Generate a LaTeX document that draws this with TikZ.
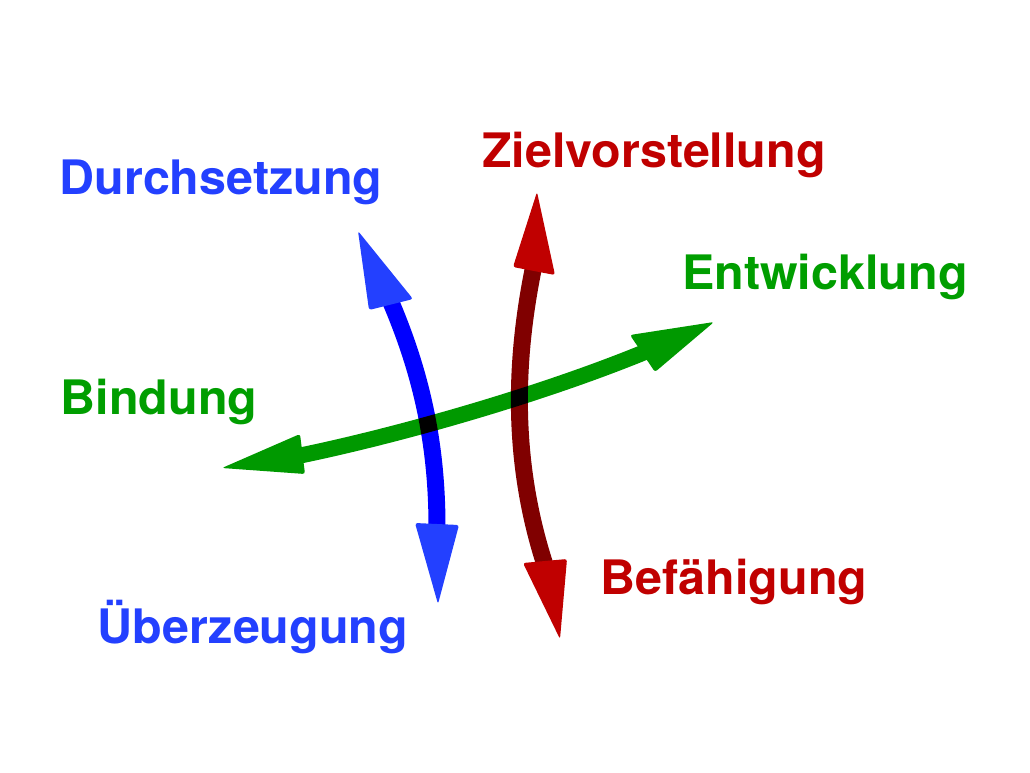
\documentclass[tikz,border=0pt]{standalone}
\usepackage{fontspec}
\setmainfont{TeX Gyre Heros}[FakeStretch=1.02]
\definecolor{bshaft}{RGB}{0,0,255}
\definecolor{bhead}{RGB}{35,64,255}
\definecolor{rshaft}{RGB}{128,0,0}
\definecolor{rhead}{RGB}{192,0,0}
\definecolor{gshaft}{RGB}{0,153,0}
\definecolor{gtext}{RGB}{0,158,0}
\tikzset{
  lbl/.style={inner sep=0pt, anchor=base, font=\fontsize{47.5}{56}\selectfont\bfseries},
  shaft/.style={line width=17pt, line cap=butt},
  headshape/.style={rounded corners=2.5pt},
}
\begin{document}
\begin{tikzpicture}[x=1pt,y=-1pt]
\useasboundingbox (0,0) rectangle (1030,773);
\fill[white] (0,0) rectangle (1030,773);

% labels
\node[lbl, text=bhead] (durch) at (221,194) {Durchsetzung};
\node[lbl, text=rhead] (ziel) at (654,167) {Zielvorstellung};
\node[lbl, text=gtext] (entw) at (825,289) {Entwicklung};
\node[lbl, text=gtext] (bind) at (159,414) {Bindung};
\node[lbl, text=rhead] (befa) at (734,594) {Befähigung};
\node[lbl, text=bhead] (ueber) at (253,643) {Überzeugung};

% shaft end points
\coordinate (bA) at (390,300);
\coordinate (bB) at (437,527);
\coordinate (rA) at (533,270);
\coordinate (rB) at (545,565);
\coordinate (gA) at (298,456);
\coordinate (gB) at (645,352);

% green shaft
\draw[shaft, gshaft, line width=16pt] (gA) .. controls (400,435) and (540,395) .. (gB);
% blue and red shafts multiplied over green
\begin{scope}[blend mode=multiply]
\draw[shaft, bshaft] (bA) .. controls (420,370) and (437,440) .. (bB);
\draw[shaft, rshaft] (rA) .. controls (515,360) and (511,460) .. (rB);
\end{scope}

% heads
\fill[bhead, headshape] (358,231) -- (413,299) -- (369,310) -- cycle;
\fill[bhead, headshape] (438,604) -- (415,523) -- (459,525) -- cycle;
\fill[rhead, headshape] (537,192) -- (555,275) -- (513,267) -- cycle;
\fill[rhead, headshape] (560,639) -- (523,563) -- (567,559) -- cycle;
\fill[gshaft, headshape] (222,468) -- (300,434) -- (305,474) -- cycle;
\fill[gshaft, headshape] (714,322) -- (655,372) -- (630,335) -- cycle;
\end{tikzpicture}
\end{document}
